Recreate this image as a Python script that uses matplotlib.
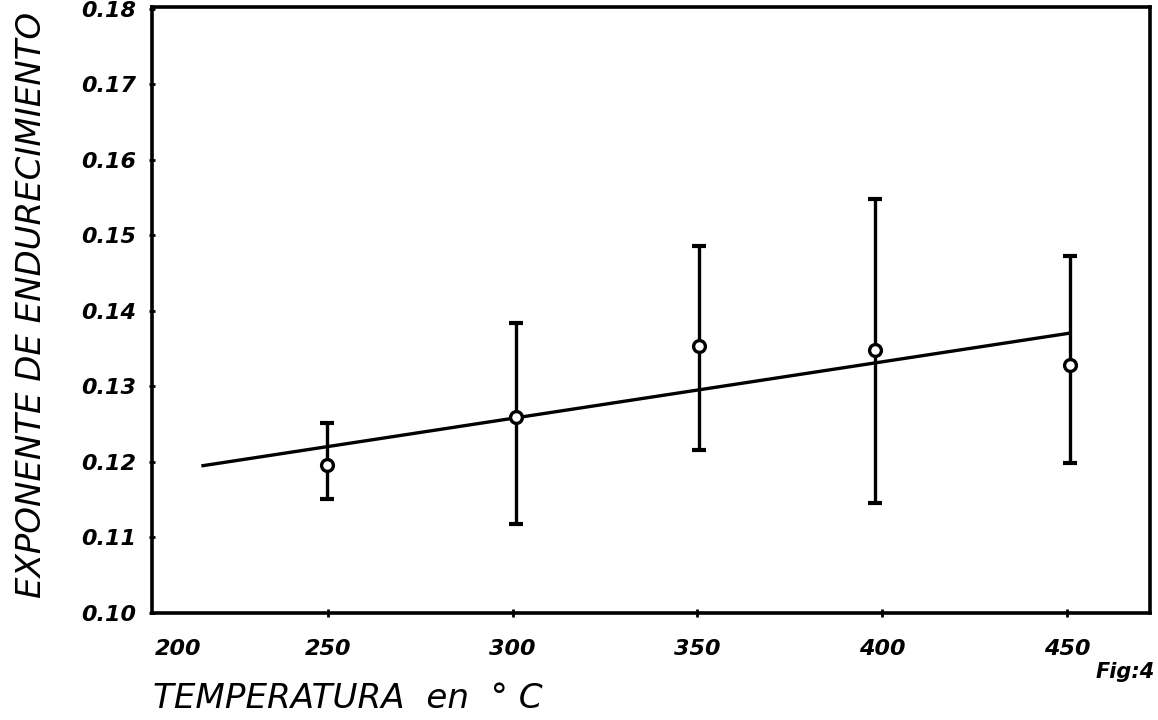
import matplotlib
matplotlib.use("Agg")
import matplotlib.pyplot as plt
import matplotlib.transforms as mtransforms
import numpy as np

# Data
temps = [249.8, 300.9, 350.4, 398.1, 450.8]
exponent = [0.1196, 0.1259, 0.1353, 0.1348, 0.1328]
upper = [0.1252, 0.1384, 0.1486, 0.1548, 0.1472]
lower = [0.1151, 0.1118, 0.1216, 0.1146, 0.1199]
fit_x = [216.2, 450.3]
fit_y = [0.1195, 0.1370]
xtick_vals = [250, 300, 350, 400, 450]
xtick_labels = ["250", "300", "350", "400", "450"]
ytick_vals = [0.10, 0.11, 0.12, 0.13, 0.14, 0.15, 0.16, 0.17, 0.18]
ytick_labels = ["0.10", "0.11", "0.12", "0.13", "0.14", "0.15", "0.16", "0.17", "0.18"]

W, H = 1158, 720
fig = plt.figure(figsize=(W / 100, H / 100), dpi=100)
L, R, T, B = 152, 1150, 7, 613
ax = fig.add_axes([L / W, 1 - B / H, (R - L) / W, (B - T) / H])

ax.set_xlim(202.4, 472.5)
ax.set_ylim(0.10, 0.1802)

for s in ax.spines.values():
    s.set_linewidth(2.6)
    s.set_color("black")

n = np.array(exponent)
yerr = [n - np.array(lower), np.array(upper) - n]
ax.errorbar(temps, exponent, yerr=yerr, fmt="none", ecolor="black",
            elinewidth=2.4, capsize=5, capthick=3, zorder=2)
ax.plot(fit_x, fit_y, color="black", lw=2.4, zorder=3)
ax.plot(temps, exponent, "o", ms=8.5, mfc="white", mec="black", mew=2.4, zorder=4)

tickfont = dict(family="DejaVu Sans", style="italic", weight="bold", size=16)
ax.set_xticks(xtick_vals)
ax.set_xticklabels(xtick_labels, **tickfont)
ax.set_yticks(ytick_vals)
ax.set_yticklabels(ytick_labels, **tickfont)
ax.tick_params(axis="x", direction="inout", length=6, width=2, pad=16)
ax.tick_params(axis="y", direction="inout", length=5, width=2, pad=9)

fig.canvas.draw()
lab_bb = ax.get_xticklabels()[0].get_window_extent()
ax.text(209.4, lab_bb.y1, "200",
        transform=mtransforms.blended_transform_factory(ax.transData, mtransforms.IdentityTransform()),
        ha="center", va="top", **tickfont)

labfont = dict(family="DejaVu Sans", style="italic")
fig.text(32 / W, 1 - 305 / H, "EXPONENTE DE ENDURECIMIENTO", rotation=90,
         ha="center", va="center", size=24.5, **labfont)
fig.text(153 / W, 1 - 708 / H, "TEMPERATURA  en  ° C", ha="left", va="baseline",
         size=24.6, **labfont)
fig.text(1096 / W, 1 - 678 / H, "Fig:4", ha="left", va="baseline",
         family="DejaVu Sans", style="italic", weight="semibold", size=15)

fig.savefig("out.png", dpi=100, facecolor="white")
